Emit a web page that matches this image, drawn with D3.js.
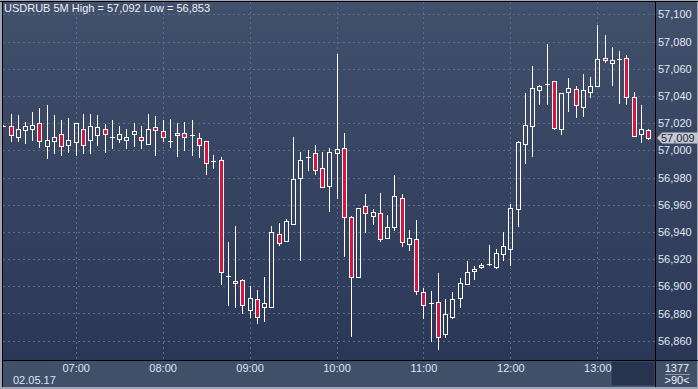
<!DOCTYPE html>
<html>
<head>
<meta charset="utf-8">
<script src="https://cdn.jsdelivr.net/npm/d3@7"></script>
<style>
html, body { margin: 0; padding: 0; background: #2c3858; }
svg { display: block; }
text { font-family: "Liberation Sans Narrow", "Arial Narrow", "Liberation Sans", Arial, sans-serif; font-size: 11px; }
</style>
</head>
<body>
<svg id="chart" width="698" height="389"></svg>
<script>
// USDRUB, 5 minute bars, 02.05.17 from 06:10
var symbol = "USDRUB", period = "5M";
var startTime = new Date(2017, 4, 2, 6, 10);
var barMinutes = 5;

var opens = [
    57.0181, 57.0176, 57.0096, 57.0147, 57.0154, 57.0199, 57.0029, 57.0066, 57.0118, 57.0037,
    57.0063, 57.0157, 57.0074, 57.0110, 57.0154, 57.0096, 57.0085, 57.0074, 57.0122, 57.0096,
    57.0044, 57.0171, 57.0142, 57.0071, 57.0125, 57.0125, 57.0113, 57.0088, 57.0066, 56.9919,
    56.9926, 56.9076, 56.9037, 56.9044, 56.8824, 56.8904, 56.8846, 56.8850, 56.9382, 56.9331,
    56.9460, 56.9794, 56.9953, 56.9978, 56.9868, 56.9735, 56.9978, 57.0015, 56.9507, 56.9071,
    56.9588, 56.9519, 56.9537, 56.9353, 56.9438, 56.9647, 56.9313, 56.9346, 56.8960, 56.8875,
    56.8882, 56.8651, 56.8776, 56.8912, 56.9015, 56.9112, 56.9144, 56.9162, 56.9144, 56.9235,
    56.9272, 56.9566, 57.0044, 57.0176, 57.0441, 57.0485, 57.0507, 57.0153, 57.0426, 57.0449,
    57.0316, 57.0426, 57.0475, 57.0676, 57.0640, 57.0669, 57.0676, 57.0390, 57.0118, 57.0147
];
var highs = [
    57.0188, 57.0267, 57.0260, 57.0210, 57.0284, 57.0309, 57.0331, 57.0260, 57.0223, 57.0235,
    57.0202, 57.0267, 57.0265, 57.0260, 57.0191, 57.0223, 57.0179, 57.0157, 57.0199, 57.0179,
    57.0267, 57.0252, 57.0223, 57.0232, 57.0201, 57.0208, 57.0223, 57.0125, 57.0068, 56.9964,
    56.9949, 56.9326, 56.9443, 56.9054, 56.9002, 56.8973, 56.9068, 56.9443, 56.9465, 56.9495,
    57.0098, 56.9987, 57.0002, 57.0039, 56.9985, 57.0015, 57.0708, 57.0127, 56.9517, 56.9574,
    56.9679, 56.9568, 56.9686, 56.9524, 56.9818, 56.9679, 56.9414, 56.9487, 56.8985, 56.8965,
    56.9098, 56.8904, 56.8956, 56.9059, 56.9186, 56.9149, 56.9168, 56.9304, 56.9274, 56.9399,
    56.9605, 57.0068, 57.0421, 57.0620, 57.0478, 57.0782, 57.0510, 57.0419, 57.0532, 57.0475,
    57.0559, 57.0537, 57.0920, 57.0848, 57.0760, 57.0732, 57.0699, 57.0431, 57.0333, 57.0154
];
var lows = [
    57.0174, 57.0063, 57.0059, 57.0044, 57.0068, 57.0015, 56.9934, 56.9973, 56.9960, 56.9980,
    56.9960, 56.9975, 56.9975, 57.0029, 56.9982, 57.0012, 57.0056, 57.0012, 57.0022, 57.0012,
    57.0039, 56.9960, 57.0063, 57.0015, 56.9953, 56.9997, 56.9960, 56.9946, 56.9822, 56.9866,
    56.9012, 56.8857, 56.8843, 56.8799, 56.8769, 56.8721, 56.8740, 56.8846, 56.9299, 56.9331,
    56.9460, 56.9188, 56.9850, 56.9821, 56.9723, 56.9549, 56.9642, 56.9218, 56.8629, 56.9071,
    56.9394, 56.9451, 56.9328, 56.9353, 56.9409, 56.9291, 56.9262, 56.8936, 56.8760, 56.8593,
    56.8530, 56.8620, 56.8760, 56.8843, 56.9015, 56.9046, 56.9125, 56.9151, 56.9129, 56.9188,
    56.9151, 56.9438, 56.9899, 56.9953, 57.0331, 57.0331, 57.0149, 57.0115, 57.0279, 57.0238,
    57.0247, 57.0385, 57.0468, 57.0640, 57.0471, 57.0338, 57.0331, 57.0096, 57.0056, 57.0074
];
var closes = [
    57.0181, 57.0110, 57.0157, 57.0176, 57.0184, 57.0068, 57.0076, 57.0096, 57.0029, 57.0074,
    57.0199, 57.0037, 57.0176, 57.0169, 57.0118, 57.0096, 57.0120, 57.0096, 57.0140, 57.0074,
    57.0154, 57.0147, 57.0096, 57.0071, 57.0110, 57.0096, 57.0113, 57.0037, 56.9903, 56.9919,
    56.9107, 56.9076, 56.9022, 56.8860, 56.8912, 56.8776, 56.8875, 56.9397, 56.9321, 56.9478,
    56.9787, 56.9926, 56.9953, 56.9853, 56.9728, 56.9985, 57.0007, 56.9512, 56.9066, 56.9574,
    56.9537, 56.9544, 56.9346, 56.9434, 56.9662, 56.9328, 56.9353, 56.8968, 56.8860, 56.8875,
    56.8629, 56.8794, 56.8904, 56.9022, 56.9103, 56.9127, 56.9154, 56.9162, 56.9243, 56.9296,
    56.9574, 57.0059, 57.0184, 57.0456, 57.0471, 57.0485, 57.0166, 57.0419, 57.0456, 57.0331,
    57.0441, 57.0471, 57.0669, 57.0662, 57.0662, 57.0669, 57.0394, 57.0105, 57.0157, 57.0090
];

var priceTicks = [56.86, 56.88, 56.90, 56.92, 56.94, 56.96, 56.98, 57.00, 57.02, 57.04, 57.06, 57.08, 57.10];
var dateLabel = "02.05.17";
var barsLabel = "1377", zoomLabel = ">90<";

var W = 698, H = 389,
    plot = {left: 3, top: 2, right: 655, bottom: 360};

var svg = d3.select("#chart");

var ru = d3.formatLocale({decimal: ",", thousands: " ", grouping: [3], currency: ["", ""]});
var fmt = ru.format(".3f");

var bars = opens.map(function (o, i) {
    return {
        t: new Date(startTime.getTime() + i * barMinutes * 60000),
        o: o, h: highs[i], l: lows[i], c: closes[i]
    };
});

var x = d3.scaleTime()
    .domain([new Date(2017, 4, 2, 7, 0), new Date(2017, 4, 2, 13, 0)])
    .range([75.7, 597.3]);
var y = d3.scaleLinear()
    .domain([56.86, 57.10])
    .range([340.7, 14.3]);

// background
var defs = svg.append("defs");
var grad = defs.append("linearGradient").attr("id", "bg")
    .attr("x1", 0).attr("y1", 0).attr("x2", 0).attr("y2", 1);
grad.append("stop").attr("offset", "0%").attr("stop-color", "#41506b");
grad.append("stop").attr("offset", "100%").attr("stop-color", "#2b3757");
defs.append("clipPath").attr("id", "clip").append("rect")
    .attr("x", plot.left).attr("y", plot.top)
    .attr("width", plot.right - plot.left).attr("height", plot.bottom - plot.top);

svg.append("rect").attr("width", W).attr("height", H).attr("fill", "#9ea6b5");
svg.append("rect").attr("x", 2).attr("y", 1).attr("width", W - 3).attr("height", plot.bottom - 1)
    .attr("fill", "url(#bg)");
svg.append("rect").attr("x", 2).attr("y", plot.bottom).attr("width", W - 3).attr("height", 27)
    .attr("fill", "#405069");
svg.append("rect").attr("x", 611).attr("y", 361).attr("width", 44).attr("height", 25)
    .attr("fill", "#27334f").attr("stroke", "#4c5b77").attr("stroke-width", 1);

// grid
var grid = svg.append("g").attr("clip-path", "url(#clip)")
    .attr("stroke", "#5c6c8a").attr("stroke-dasharray", "2,3").attr("stroke-width", 1);
grid.selectAll("line.h").data(priceTicks).join("line").attr("class", "h")
    .attr("x1", plot.left).attr("x2", plot.right)
    .attr("y1", function (d) { return Math.round(y(d)) + 0.5; })
    .attr("y2", function (d) { return Math.round(y(d)) + 0.5; });
grid.selectAll("line.v").data(x.ticks(d3.timeHour.every(1))).join("line").attr("class", "v")
    .attr("y1", plot.top).attr("y2", plot.bottom)
    .attr("x1", function (d) { return Math.round(x(d)) + 0.5; })
    .attr("x2", function (d) { return Math.round(x(d)) + 0.5; });

// candles
var g = svg.append("g").attr("clip-path", "url(#clip)");
var candle = g.selectAll("g.bar").data(bars).join("g").attr("class", "bar");

candle.each(function (d) {
    var sel = d3.select(this),
        cx = Math.round(x(d.t)),
        top = Math.round(y(Math.max(d.o, d.c))),
        bot = Math.round(y(Math.min(d.o, d.c))),
        hi = Math.round(y(d.h)),
        lo = Math.round(y(d.l));
    if (hi < top) {
        sel.append("line").attr("x1", cx + 0.5).attr("x2", cx + 0.5)
            .attr("y1", hi).attr("y2", top).attr("stroke", "#ffffff");
    }
    if (lo > bot) {
        sel.append("line").attr("x1", cx + 0.5).attr("x2", cx + 0.5)
            .attr("y1", bot + 1).attr("y2", lo).attr("stroke", "#ffffff");
    }
    if (bot - top < 1) {
        sel.append("line").attr("x1", cx - 2).attr("x2", cx + 3)
            .attr("y1", top + 0.5).attr("y2", top + 0.5).attr("stroke", "#ffffff");
    } else {
        sel.append("rect").attr("x", cx - 1.5).attr("y", top + 0.5)
            .attr("width", 4).attr("height", bot - top)
            .attr("fill", d.c < d.o ? "#dc143c" : "none")
            .attr("stroke", "#ffffff").attr("stroke-width", 1);
    }
});

// frame lines
svg.append("line").attr("x1", 0).attr("x2", W).attr("y1", 1.5).attr("y2", 1.5).attr("stroke", "#000");
svg.append("line").attr("x1", 2.5).attr("x2", 2.5).attr("y1", 1).attr("y2", 387).attr("stroke", "#000");
svg.append("line").attr("x1", 2).attr("x2", W).attr("y1", plot.bottom + 0.5).attr("y2", plot.bottom + 0.5).attr("stroke", "#000");
svg.append("line").attr("x1", plot.right + 0.5).attr("x2", plot.right + 0.5).attr("y1", 1).attr("y2", 387).attr("stroke", "#000");

// price axis
var yAxis = svg.append("g").attr("transform", "translate(" + (plot.right + 1) + ",0)")
    .call(d3.axisRight(y).tickValues(priceTicks).tickSize(0).tickPadding(2).tickFormat(fmt));
yAxis.select(".domain").remove();
yAxis.selectAll("text").attr("fill", "#e2e7f0").style("font-size", "11px").style("font-family", null);

// time axis
var xAxis = svg.append("g").attr("transform", "translate(0," + (plot.bottom + 1) + ")")
    .call(d3.axisBottom(x).ticks(d3.timeHour.every(1)).tickSize(0).tickPadding(3)
        .tickFormat(d3.timeFormat("%H:%M")));
xAxis.select(".domain").remove();
xAxis.selectAll("text").attr("fill", "#dce6f4").style("font-size", "11px").style("font-family", null);

svg.append("text").attr("x", 13).attr("y", 383.5).attr("fill", "#dce6f4").text(dateLabel);

// last price tag
var last = closes[closes.length - 1], ly = y(last);
svg.append("path")
    .attr("d", "M657," + ly + "L662," + (ly - 5.5) + "H698V" + (ly + 5.5) + "H662Z")
    .attr("fill", "#c4c9d2");
svg.append("text").attr("x", 661).attr("y", ly).attr("dy", "0.36em")
    .attr("fill", "#1d2842").text(fmt(last));

// bottom right counters
svg.append("text").attr("x", 677).attr("y", 372).attr("text-anchor", "middle")
    .attr("fill", "#eef1f6").text(barsLabel);
svg.append("line").attr("x1", 665).attr("x2", 690).attr("y1", 374.5).attr("y2", 374.5)
    .attr("stroke", "#8f99ab");
svg.append("text").attr("x", 677).attr("y", 384).attr("text-anchor", "middle")
    .attr("fill", "#eef1f6").text(zoomLabel);

// title
svg.append("text").attr("x", 4).attr("y", 12).attr("fill", "#eef1f6")
    .text(symbol + " " + period + " High = " + fmt(d3.max(highs)) + " Low = " + fmt(d3.min(lows)));
</script>
</body>
</html>
